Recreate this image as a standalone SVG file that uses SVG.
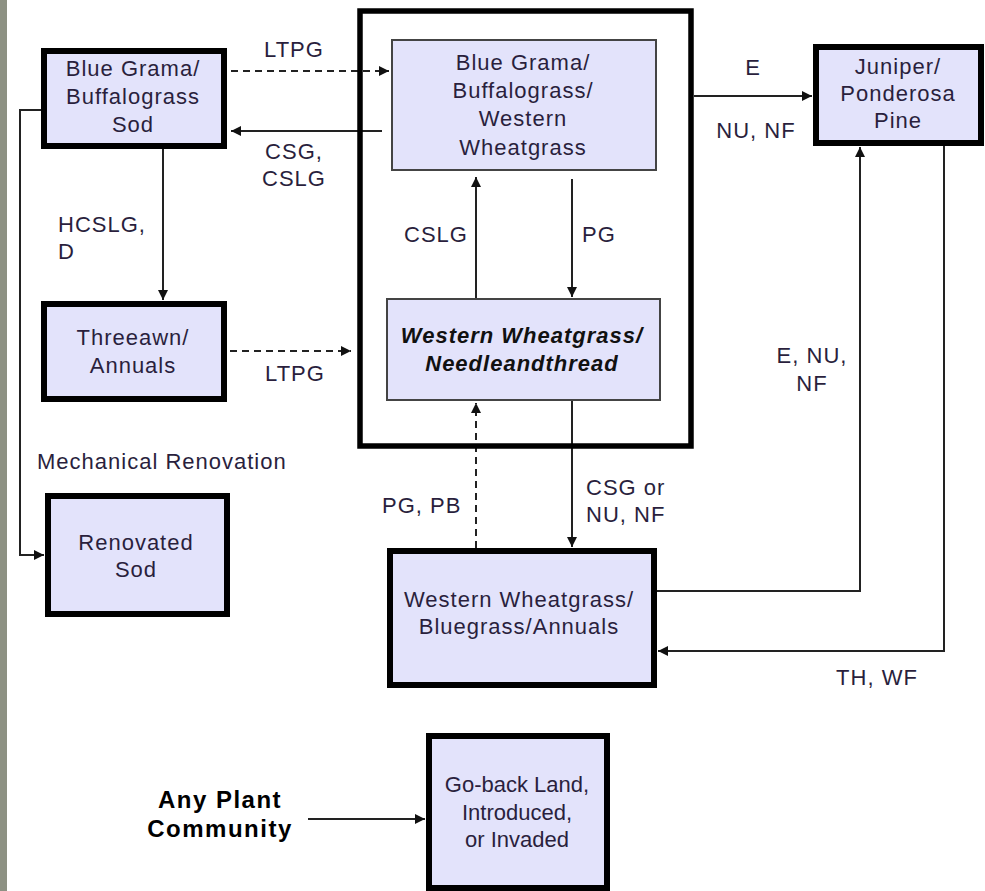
<svg xmlns="http://www.w3.org/2000/svg" width="985" height="891" viewBox="0 0 985 891">
<style>
  .bg { fill: #ffffff; }
  .strip { fill: #8d9183; }
  .thick { fill: #e3e3fb; stroke: #000; stroke-width: 6; }
  .thin { fill: #e3e3fb; stroke: #444; stroke-width: 2; }
  .frame { fill: none; stroke: #000; stroke-width: 5.5; }
  .t { font-family: "Liberation Sans", Arial, sans-serif; font-size: 22px; fill: #2a1f3d; letter-spacing: 1px; }
  .m { text-anchor: middle; }
  .bi { font-weight: bold; font-style: italic; fill: #111; }
  .cond { letter-spacing: 0px; }
  .big { font-weight: bold; font-size: 24px; fill: #000; letter-spacing: 1.5px; }
  .c { fill: none; stroke: #222; stroke-width: 2; }
  .d { stroke-dasharray: 7 5; }
</style>
<defs>
  <marker id="ah" viewBox="0 0 10 10" refX="10" refY="5" markerWidth="10" markerHeight="10" markerUnits="userSpaceOnUse" orient="auto">
    <path d="M0,0 L10,5 L0,10 z" fill="#111"/>
  </marker>
</defs>
<rect class="bg" x="0" y="0" width="985" height="891"/>
<rect class="strip" x="0" y="0" width="7" height="891"/>

<g id="connectors">
  <path class="c d" d="M231,71 H389" marker-end="url(#ah)"/>
  <path class="c" d="M382,131 H231" marker-end="url(#ah)"/>
  <path class="c" d="M163,149 V300" marker-end="url(#ah)"/>
  <path class="c" d="M41,110 H20 V555 H44" marker-end="url(#ah)"/>
  <path class="c d" d="M230,351 H351" marker-end="url(#ah)"/>
  <path class="c" d="M476,298 V177" marker-end="url(#ah)"/>
  <path class="c" d="M572,179 V297" marker-end="url(#ah)"/>
  <path class="c" d="M694,96 H812" marker-end="url(#ah)"/>
  <path class="c d" d="M476,548 V403" marker-end="url(#ah)"/>
  <path class="c" d="M572,401 V547" marker-end="url(#ah)"/>
  <path class="c" d="M657,591 H860 V147" marker-end="url(#ah)"/>
  <path class="c" d="M944,146 V651 H658" marker-end="url(#ah)"/>
  <path class="c" d="M308,819 H425" marker-end="url(#ah)"/>
</g>

<g id="labels">
  <text class="t m" x="294" y="57">LTPG</text>
  <text class="t m" x="294" y="159">CSG,</text>
  <text class="t m" x="294" y="186">CSLG</text>
  <text class="t" x="58" y="232">HCSLG,</text>
  <text class="t" x="58" y="259">D</text>
  <text class="t m" x="436" y="242">CSLG</text>
  <text class="t m" x="599" y="242">PG</text>
  <text class="t m" x="295" y="381">LTPG</text>
  <text class="t" x="37" y="469">Mechanical Renovation</text>
  <text class="t m" x="753" y="75">E</text>
  <text class="t m" x="756" y="138">NU, NF</text>
  <text class="t m" x="812" y="363">E, NU,</text>
  <text class="t m" x="812" y="391">NF</text>
  <text class="t" x="382" y="513">PG, PB</text>
  <text class="t" x="586" y="495">CSG or</text>
  <text class="t" x="586" y="522">NU, NF</text>
  <text class="t m" x="877" y="685">TH, WF</text>
</g>

<g id="container">
  <rect class="frame" x="360" y="11" width="331" height="435"/>
</g>

<g id="node-sod">
  <rect class="thick" x="44" y="51" width="180" height="95"/>
  <text class="t m" x="133" y="76">Blue Grama/</text>
  <text class="t m" x="133" y="104">Buffalograss</text>
  <text class="t m" x="133" y="132">Sod</text>
</g>

<g id="node-bgbww">
  <rect class="thin" x="392" y="40" width="264" height="130"/>
  <text class="t m" x="523" y="70">Blue Grama/</text>
  <text class="t m" x="523" y="98">Buffalograss/</text>
  <text class="t m" x="523" y="126">Western</text>
  <text class="t m" x="523" y="155">Wheatgrass</text>
</g>

<g id="node-wwn">
  <rect class="thin" x="387" y="299" width="273" height="101"/>
  <text class="t m bi" x="522" y="343">Western Wheatgrass/</text>
  <text class="t m bi" x="522" y="371">Needleandthread</text>
</g>

<g id="node-threeawn">
  <rect class="thick" x="44" y="304" width="180" height="95"/>
  <text class="t m" x="133" y="345">Threeawn/</text>
  <text class="t m" x="133" y="373">Annuals</text>
</g>

<g id="node-renovated">
  <rect class="thick" x="48" y="496" width="179" height="118"/>
  <text class="t m" x="136" y="550">Renovated</text>
  <text class="t m" x="136" y="577">Sod</text>
</g>

<g id="node-juniper">
  <rect class="thick" x="816" y="47" width="165" height="96"/>
  <text class="t m" x="898" y="74">Juniper/</text>
  <text class="t m" x="898" y="101">Ponderosa</text>
  <text class="t m" x="898" y="128">Pine</text>
</g>

<g id="node-wwba">
  <rect class="thick" x="390" y="551" width="264" height="134"/>
  <text class="t m" x="519" y="607">Western Wheatgrass/</text>
  <text class="t m" x="519" y="634">Bluegrass/Annuals</text>
</g>

<g id="node-any">
  <text class="t m big" x="220" y="808">Any Plant</text>
  <text class="t m big" x="220" y="837">Community</text>
</g>

<g id="node-goback">
  <rect class="thick" x="429" y="736" width="178" height="152"/>
  <text class="t m cond" x="517" y="792">Go-back Land,</text>
  <text class="t m cond" x="517" y="820">Introduced,</text>
  <text class="t m cond" x="517" y="847">or Invaded</text>
</g>
</svg>
